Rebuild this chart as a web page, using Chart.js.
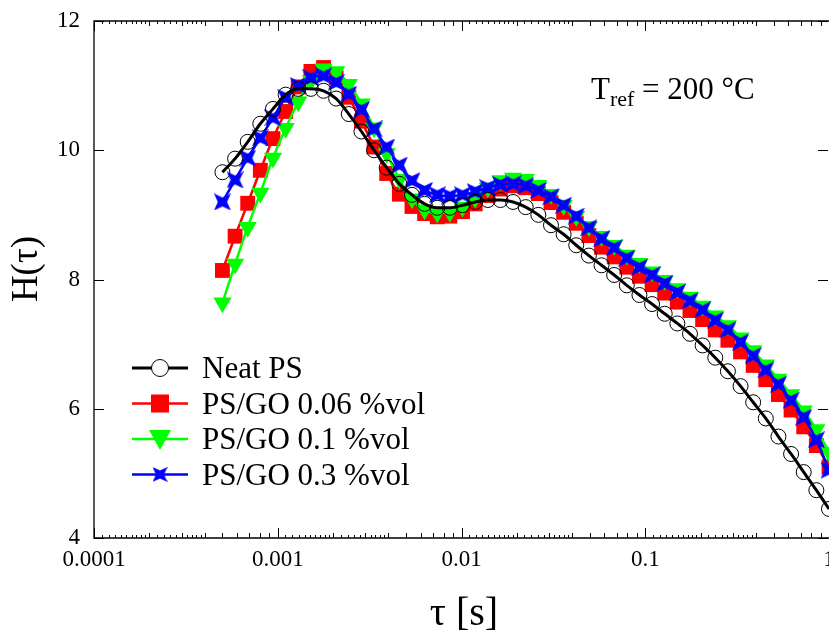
<!DOCTYPE html>
<html>
<head>
<meta charset="utf-8">
<script src="https://cdn.jsdelivr.net/npm/chart.js@4.4.0/dist/chart.umd.min.js"></script>
<style>
  html, body { margin: 0; padding: 0; background: #fff; }
  canvas { display: block; }
</style>
</head>
<body>
<canvas id="chart" width="829" height="634"></canvas>
<script>
// relaxation times (s)
const tau = [0.0005, 0.000586, 0.0006863, 0.000804, 0.000942, 0.001104, 0.001293, 0.001515, 0.001775, 0.002079,
  0.002436, 0.002854, 0.003344, 0.003917, 0.004589, 0.005377, 0.006299, 0.00738, 0.008646, 0.01013,
  0.011869, 0.013905, 0.01629, 0.019085, 0.022359, 0.026195, 0.03069, 0.035955, 0.042125, 0.04935,
  0.05782, 0.06774, 0.07936, 0.09298, 0.10894, 0.12762, 0.14952, 0.17517, 0.20523, 0.24044,
  0.28169, 0.33002, 0.38665, 0.45299, 0.53071, 0.62177, 0.72846, 0.85344, 1.0];

const neatPS = [9.66, 9.87, 10.13, 10.41, 10.64, 10.86, 10.95, 10.95, 10.92, 10.80,
  10.56, 10.29, 10.00, 9.73, 9.48, 9.31, 9.17, 9.11, 9.11, 9.15,
  9.20, 9.23, 9.23, 9.20, 9.12, 9.00, 8.84, 8.70, 8.53, 8.37,
  8.22, 8.07, 7.91, 7.76, 7.62, 7.47, 7.32, 7.16, 6.98, 6.79,
  6.58, 6.35, 6.10, 5.85, 5.57, 5.30, 5.02, 4.74, 4.45];

const go006 = [8.14, 8.67, 9.18, 9.69, 10.18, 10.60, 10.98, 11.22, 11.28, 11.12,
  10.82, 10.45, 10.05, 9.64, 9.32, 9.13, 9.02, 8.97, 8.98, 9.05,
  9.17, 9.30, 9.40, 9.45, 9.42, 9.33, 9.19, 9.04, 8.87, 8.68,
  8.50, 8.35, 8.19, 8.05, 7.92, 7.79, 7.65, 7.52, 7.38, 7.22,
  7.06, 6.88, 6.67, 6.45, 6.22, 5.98, 5.72, 5.43, 5.10];

const go01 = [7.64, 8.24, 8.81, 9.34, 9.88, 10.34, 10.75, 11.08, 11.26, 11.22,
  11.02, 10.72, 10.35, 9.95, 9.55, 9.25, 9.08, 9.03, 9.04, 9.12,
  9.26, 9.42, 9.53, 9.57, 9.55, 9.46, 9.32, 9.15, 8.98, 8.82,
  8.67, 8.53, 8.38, 8.25, 8.12, 7.99, 7.86, 7.73, 7.59, 7.44,
  7.29, 7.10, 6.90, 6.68, 6.46, 6.22, 5.97, 5.68, 5.33];

const go03 = [9.20, 9.54, 9.88, 10.19, 10.50, 10.82, 11.00, 11.12, 11.15, 11.05,
  10.87, 10.63, 10.33, 10.05, 9.77, 9.53, 9.38, 9.31, 9.29, 9.31,
  9.36, 9.42, 9.47, 9.48, 9.45, 9.38, 9.28, 9.15, 8.98, 8.80,
  8.63, 8.49, 8.33, 8.19, 8.07, 7.94, 7.80, 7.67, 7.53, 7.37,
  7.22, 7.03, 6.82, 6.60, 6.38, 6.13, 5.87, 5.52, 5.05];

const seriesNames = ['Neat PS', 'PS/GO 0.06 %vol', 'PS/GO 0.1 %vol', 'PS/GO 0.3 %vol'];
const xTicks = [0.0001, 0.001, 0.01, 0.1, 1];
const xTickLabels = ['0.0001', '0.001', '0.01', '0.1', '1'];
const yTicks = [4, 6, 8, 10, 12];

const FONT = "'Liberation Serif', 'Times New Roman', serif";

// 4-point star marker (points on the diagonals)
function starMarker(size, color) {
  const c = document.createElement('canvas');
  c.width = size; c.height = size;
  const g = c.getContext('2d');
  const cx = size / 2, R = size / 2 * Math.SQRT2, r = size * 0.27;
  g.beginPath();
  for (let i = 0; i < 8; i++) {
    const ang = Math.PI / 4 + i * Math.PI / 4;
    const rad = i % 2 === 0 ? R : r;
    const px = cx + Math.cos(ang) * rad, py = cx + Math.sin(ang) * rad;
    if (i === 0) g.moveTo(px, py); else g.lineTo(px, py);
  }
  g.closePath();
  g.fillStyle = color;
  g.fill();
  return c;
}
const blueStar = starMarker(17, '#0000ff');
const blueStarSmall = starMarker(15, '#0000ff');

const pts = vals => tau.map((t, i) => ({ x: t, y: vals[i] }));

// frame, inward ticks and x tick labels
const frameTicks = {
  id: 'frameTicks',
  beforeDatasetsDraw(chart) {
    const { ctx, chartArea: a } = chart;
    const xs = chart.scales.x, ys = chart.scales.y;
    ctx.save();
    ctx.strokeStyle = '#000';
    ctx.lineWidth = 1.3;
    ctx.beginPath();
    ctx.moveTo(a.right, a.top); ctx.lineTo(a.left, a.top);
    ctx.lineTo(a.left, a.bottom); ctx.lineTo(a.right, a.bottom);
    ctx.stroke();

    ctx.lineWidth = 1;
    ctx.beginPath();
    const mark = (v, len) => {
      const px = Math.round(xs.getPixelForValue(v)) + 0.5;
      ctx.moveTo(px, a.bottom); ctx.lineTo(px, a.bottom - len);
      ctx.moveTo(px, a.top); ctx.lineTo(px, a.top + len);
    };
    for (let e = -4; e <= 0; e++) {
      const d = Math.pow(10, e);
      mark(d, 10);
      if (e === 0) break;
      for (let m = 2; m <= 9; m++) mark(m * d, 5);
      for (let m = 11; m < 20; m++) mark(m / 10 * d, 3);
      for (let m = 22; m < 40; m += 2) if (m % 10) mark(m / 10 * d, 3);
    }
    yTicks.forEach(v => {
      const py = Math.round(ys.getPixelForValue(v)) + 0.5;
      ctx.moveTo(a.left, py); ctx.lineTo(a.left + 10, py);
      ctx.moveTo(a.right - 1, py); ctx.lineTo(a.right - 11, py);
    });
    ctx.stroke();

    ctx.fillStyle = '#000';
    ctx.font = '23px ' + FONT;
    ctx.textAlign = 'center';
    ctx.textBaseline = 'middle';
    xTicks.forEach((v, i) => ctx.fillText(xTickLabels[i], xs.getPixelForValue(v), 560));
    ctx.restore();
  }
};

// legend with line + marker samples, plus titles and annotation
const extras = {
  id: 'extras',
  afterDatasetsDraw(chart) {
    const { ctx } = chart;
    ctx.save();
    const rows = [368, 403.5, 439, 474.5];
    const x0 = 132, x1 = 188, xm = 160;
    const colors = ['#000000', '#ff0000', '#00ff00', '#0000ff'];
    rows.forEach((y, i) => {
      ctx.strokeStyle = colors[i];
      ctx.lineWidth = i === 0 ? 3 : 2.5;
      ctx.beginPath(); ctx.moveTo(x0, y); ctx.lineTo(x1, y); ctx.stroke();
      ctx.fillStyle = colors[i];
      if (i === 0) {
        ctx.beginPath(); ctx.arc(xm, y, 8.5, 0, Math.PI * 2);
        ctx.fillStyle = '#fff'; ctx.fill();
        ctx.lineWidth = 1; ctx.strokeStyle = '#000'; ctx.stroke();
      } else if (i === 1) {
        ctx.fillRect(xm - 9, y - 9, 18, 18);
      } else if (i === 2) {
        ctx.beginPath();
        ctx.moveTo(xm - 11, y - 9); ctx.lineTo(xm + 11, y - 9); ctx.lineTo(xm, y + 11);
        ctx.closePath(); ctx.fill();
      } else {
        ctx.drawImage(blueStarSmall, xm - 7.5, y - 7.5);
      }
      ctx.fillStyle = '#000';
      ctx.font = '31px ' + FONT;
      ctx.textAlign = 'left';
      ctx.textBaseline = 'alphabetic';
      ctx.fillText(seriesNames[i], 202, y + 10);
    });

    // T_ref annotation
    ctx.textBaseline = 'alphabetic';
    ctx.font = '31px ' + FONT;
    let x = 591;
    ctx.fillText('T', x, 99);
    x += ctx.measureText('T').width;
    ctx.font = '22px ' + FONT;
    ctx.fillText('ref', x, 106);
    x += ctx.measureText('ref').width;
    ctx.font = '31px ' + FONT;
    ctx.fillText(' = 200 \u00B0C', x, 99);

    // axis titles
    ctx.textAlign = 'center';
    ctx.textBaseline = 'middle';
    ctx.font = '40px ' + FONT;
    ctx.fillText('\u03C4 [s]', 464, 614);
    ctx.translate(27, 269);
    ctx.rotate(-Math.PI / 2);
    ctx.font = '37px ' + FONT;
    ctx.fillText('H(\u03C4)', 0, 0);
    ctx.restore();
  }
};

new Chart(document.getElementById('chart'), {
  type: 'line',
  data: {
    datasets: [
      {
        label: seriesNames[0], data: pts(neatPS), order: 0,
        borderColor: '#000000', borderWidth: 3, cubicInterpolationMode: 'monotone',
        pointStyle: 'circle', pointRadius: 7.5, pointBorderWidth: 1,
        pointBorderColor: '#000000', pointBackgroundColor: 'rgba(0,0,0,0)'
      },
      {
        label: seriesNames[1], data: pts(go006), order: 3,
        borderColor: '#ff0000', borderWidth: 2.5, cubicInterpolationMode: 'monotone',
        pointStyle: 'rect', pointRadius: 10.5, pointBorderWidth: 0,
        pointBackgroundColor: '#ff0000'
      },
      {
        label: seriesNames[2], data: pts(go01), order: 2,
        borderColor: '#00ff00', borderWidth: 2.5, cubicInterpolationMode: 'monotone',
        pointStyle: 'triangle', pointRotation: 180, pointRadius: 10.5, pointBorderWidth: 0,
        pointBackgroundColor: '#00ff00'
      },
      {
        label: seriesNames[3], data: pts(go03), order: 1,
        borderColor: '#0000ff', borderWidth: 2.5, cubicInterpolationMode: 'monotone',
        pointStyle: blueStar, pointRadius: 8.5,
        pointBackgroundColor: '#0000ff'
      }
    ]
  },
  options: {
    responsive: false,
    animation: false,
    layout: { autoPadding: false, padding: { top: 21, right: 0, left: 0, bottom: 0 } },
    plugins: { legend: { display: false }, tooltip: { enabled: false } },
    scales: {
      x: {
        type: 'logarithmic', min: 0.0001, max: 1,
        grid: { display: false }, border: { display: false },
        ticks: { display: false },
        afterFit: s => { s.height = 96; s.paddingLeft = 0; s.paddingRight = 0; }
      },
      y: {
        min: 4, max: 12,
        grid: { display: false }, border: { display: false },
        afterBuildTicks: s => { s.ticks = yTicks.map(v => ({ value: v })); },
        ticks: { padding: 6, color: '#000', font: { family: FONT, size: 23 } },
        afterFit: s => { s.width = 94; }
      }
    }
  },
  plugins: [frameTicks, extras]
});
</script>
</body>
</html>
